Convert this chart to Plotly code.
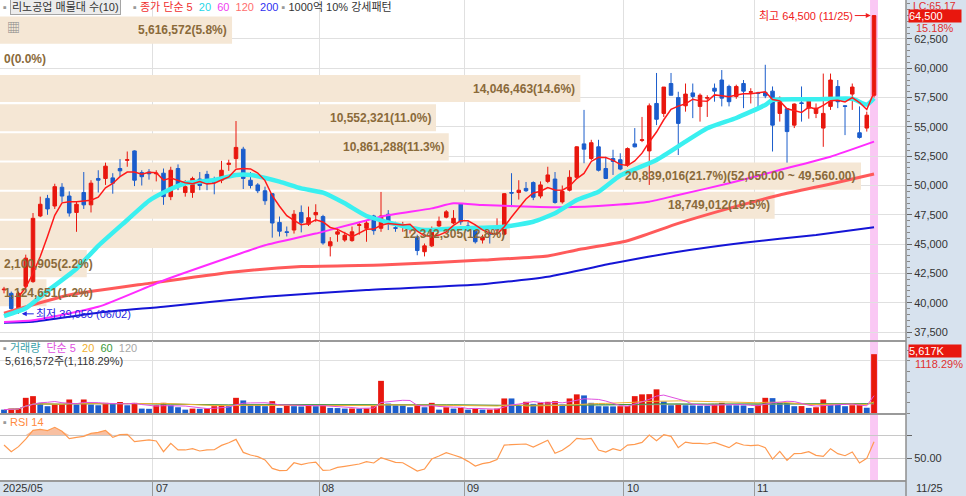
import plotly.graph_objects as go
import pandas as pd

W, H = 966, 496
PR = 906  # right edge of the chart area (px)

# daily candles, 2025-05-29 .. 2025-11-25
opens = [41100, 40800, 39400, 41400, 41800, 47400, 48900, 48250, 49850, 49100,
         47700, 49400, 48350, 50600, 50600, 50650, 51450, 52150, 52950, 51100,
         51150, 51000, 51050, 49050, 51450, 49400, 49400, 50550, 50950, 50300,
         50450, 51800, 52300, 53100, 50450, 50050, 49550, 49300, 46850, 46050,
         46200, 47700, 46700, 47500, 47350, 44850, 45850, 45350, 45300, 46600,
         46350, 47400, 46350, 47550, 46400, 46450, 46300, 45600, 44350, 44850,
         46550, 47300, 46800, 48450, 46550, 46500, 45350, 45900, 46200, 45850,
         49400, 49400, 49750, 50250, 49100, 50350, 50550, 48600, 49600, 50700,
         53550, 52300, 53300, 51450, 52300, 52200, 51750, 53550, 53850, 52950,
         57000, 56150, 58700, 57500, 56800, 57900, 56750, 57450, 58300, 59000,
         58450, 57600, 58700, 57950, 57900, 57950, 58050, 56150, 56550, 55150,
         57050, 56600, 56150, 54900, 56750, 58450, 56800, 57800, 54500, 54900,
         57700]
highs = [41350, 40950, 40950, 44100, 47650, 49050, 49200, 50150, 50200, 49500,
         48650, 51150, 50450, 51300, 51950, 51050, 52250, 52900, 53000, 51300,
         51400, 51300, 51450, 51600, 51800, 50450, 50750, 51150, 51250, 50750,
         52100, 52200, 55500, 53300, 51150, 50200, 49900, 49350, 47350, 46500,
         47900, 48300, 48200, 48400, 47500, 45600, 46350, 46050, 46500, 46900,
         47050, 47500, 49450, 47900, 46900, 46900, 46600, 45800, 45050, 46500,
         47350, 47900, 47900, 48500, 46900, 46650, 45800, 46050, 47200, 49350,
         51050, 50450, 50300, 50350, 50350, 51600, 51150, 50000, 51300, 53350,
         56450, 53900, 53900, 52450, 53050, 52750, 53250, 54900, 55850, 57000,
         59600, 58400, 59600, 58000, 58700, 58700, 57850, 57700, 58700, 59850,
         58600, 58600, 59000, 58300, 58000, 60300, 58450, 57600, 56600, 57000,
         58450, 57450, 57000, 59550, 59550, 59000, 56850, 58700, 56750, 56300,
         64500]
lows = [40800, 39400, 39050, 41100, 41700, 47300, 47500, 48000, 48600, 47350,
        46050, 48000, 47700, 49400, 50050, 49300, 50750, 51600, 49950, 50000,
        50500, 50350, 48350, 48750, 49600, 49050, 48950, 49600, 49600, 49250,
        50200, 51250, 51500, 49700, 49750, 49350, 48350, 45550, 45650, 45650,
        45900, 46000, 46550, 46900, 44950, 43950, 45200, 45200, 45200, 45800,
        45200, 45800, 46050, 46200, 46050, 46050, 45900, 44050, 43950, 44750,
        46450, 47200, 46700, 46650, 46050, 45050, 45050, 45050, 45800, 45750,
        48150, 48800, 49450, 48750, 48900, 50200, 48450, 48450, 49500, 50600,
        51900, 52150, 51200, 50550, 50900, 51300, 51600, 53250, 53700, 50050,
        55150, 55850, 57700, 52600, 56300, 55750, 55450, 55850, 57150, 56750,
        56750, 57400, 56600, 57000, 56600, 57450, 52900, 55450, 51950, 54900,
        55450, 55700, 55750, 53300, 56450, 56600, 54300, 56450, 54000, 54600,
        57500]
closes = [41150, 39500, 40800, 43800, 47200, 48400, 48000, 49900, 49100, 47650,
          48400, 48350, 50200, 50450, 51650, 50200, 51250, 52200, 50450, 50750,
          51000, 51050, 49050, 51300, 49900, 49900, 50600, 50000, 50200, 50250,
          51300, 51900, 53250, 50600, 50000, 49550, 48700, 46800, 46100, 46000,
          47550, 46850, 47250, 47700, 45100, 45200, 46050, 45750, 46050, 46650,
          46800, 46150, 47400, 46800, 46350, 46500, 46400, 44450, 44850, 46200,
          46950, 47750, 47200, 46900, 46150, 45200, 45600, 45850, 46450, 49300,
          49350, 49600, 49550, 49000, 50050, 50900, 48550, 49500, 50700, 53300,
          53100, 53650, 51300, 50600, 52050, 51400, 53150, 53300, 53900, 56800,
          55650, 58400, 57700, 55300, 57800, 57600, 57700, 57500, 58050, 57450,
          57150, 58450, 58050, 58000, 57850, 57650, 55150, 57450, 54600, 56950,
          57000, 57450, 56600, 56150, 59000, 57150, 56750, 58400, 54100, 56000,
          64500]

# volume, thousand shares
vol_k = [320, 420, 430, 1450, 1610, 970, 650, 810, 870, 1290,
         810, 1290, 810, 740, 970, 870, 1050, 740, 970, 420,
         400, 740, 970, 740, 550, 320, 420, 400, 450, 650,
         700, 650, 1450, 1200, 810, 780, 650, 1130, 485, 810,
         650, 620, 740, 650, 810, 485, 470, 420, 430, 420,
         440, 650, 3070, 900, 740, 720, 550, 740, 550, 970,
         320, 550, 420, 485, 320, 420, 320, 330, 420, 1390,
         1390, 740, 1070, 870, 970, 1070, 1130, 810, 1390, 1780,
         1680, 970, 650, 640, 630, 650, 660, 1610, 1780, 1800,
         2260, 1100, 740, 870, 740, 720, 700, 690, 870, 970,
         740, 730, 720, 480, 810, 1450, 1420, 970, 960, 650,
         660, 485, 550, 1290, 810, 800, 650, 740, 750, 502,
         5617]

rsi14 = [61.3, 55.5, 59.9, 66.5, 74.1, 74.9, 73.8, 76.7, 73.2, 66.8,
         68.0, 68.8, 71.4, 72.3, 74.1, 68.0, 70.3, 70.6, 64.2, 64.8,
         65.7, 64.8, 55.5, 62.8, 57.0, 57.0, 58.1, 56.1, 57.0, 57.2,
         61.0, 63.3, 66.2, 54.9, 52.6, 51.2, 48.3, 41.0, 39.0, 39.3,
         45.9, 44.2, 45.7, 46.5, 39.3, 39.6, 41.9, 42.8, 43.9, 44.8,
         46.8, 45.7, 50.3, 48.3, 46.2, 45.9, 42.5, 38.7, 40.4, 49.1,
         51.7, 54.6, 52.6, 50.6, 47.1, 43.0, 45.1, 46.2, 48.6, 61.3,
         61.6, 61.6, 62.2, 59.6, 62.8, 65.4, 54.1, 56.7, 61.0, 67.1,
         66.5, 67.1, 57.0, 55.2, 58.1, 56.4, 61.3, 61.9, 63.6, 70.0,
         65.1, 70.3, 68.8, 59.0, 63.9, 62.8, 62.8, 62.2, 63.6, 61.6,
         59.0, 63.3, 61.3, 60.7, 61.3, 59.0, 49.1, 55.8, 48.0, 53.8,
         54.1, 55.5, 52.3, 51.4, 58.1, 53.8, 52.0, 55.2, 45.7, 49.7,
         64.2]

# longer moving averages (candle index, value)
ma20_at = [0, 3, 6, 10, 13, 17, 20, 22, 25, 29, 32, 34, 38, 41, 44, 47, 50, 55,
           58, 63, 69, 73, 76, 79, 82, 85, 90, 94, 97, 101, 105, 106, 112, 117, 119, 120]
ma20 = [38850, 39520, 41000, 42900, 44850, 47060, 48700, 49400, 50190, 50470, 50900,
        50900, 50330, 49760, 49390, 48480, 47400, 46550, 46200, 46350, 46490, 46910,
        47630, 48760, 49470, 50850, 52180, 53740, 54880, 55760, 56870, 57300, 57350,
        57400, 56900, 57450]
ma60_at = [0, 4, 13, 22, 32, 36, 43, 52, 59, 62, 66, 70, 77, 84, 89, 93, 100, 107, 114, 120]
ma60 = [38350, 38500, 39650, 41900, 44070, 44900, 45900, 47340, 48050, 48480, 48340,
        48250, 48140, 48340, 48620, 49190, 50190, 51320, 52460, 53740]
ma120_at = [0, 9, 20, 32, 41, 52, 66, 75, 79, 86, 93, 100, 107, 114, 120]
ma120 = [39100, 40650, 41650, 42650, 43080, 43220, 43640, 43990, 44500, 45290, 46770,
         48050, 49190, 50130, 50980]
ma200_at = [0, 4, 13, 22, 36, 50, 66, 75, 84, 93, 102, 112, 120]
ma200 = [38300, 38380, 39150, 39660, 40510, 41090, 41580, 42220, 43360, 44350, 45120,
         45780, 46430]

# volume profile, 10 price bands from 39,600 upward
vp_low = 39600
vp_step = 2490
vp_vol = [1124651, 2100905, 12342305, 18749012, 20839016, 10861288, 10552321,
          14046463, 0, 5616572]

month_labels = ["2025/05", "07", "08", "09", "10", "11"]
month_first = [0, 21, 44, 64, 86, 104]
last_label = "11/25"

n = len(closes)
idx = list(range(n))

RED = "#e8170e"
BLUE = "#1b5dcc"
GRID = "#e0e0e0"
PANEL = "#d7e2ee"
BEIGE = "#f5e7d5"
BROWN = "#8a6a3a"
NUM = "Liberation Sans, Noto Sans CJK KR, sans-serif"


def px(x):
    return x / W


def py(y):
    return 1 - y / H


xr = [-0.552, 124.41]
xdom = [0, PR / W]
grid_x = [m - 0.5 for m in month_first[1:]]

ma5 = pd.Series(closes).rolling(5, min_periods=3).mean()
vol_colors = [BLUE] + [RED if v > p else BLUE for p, v in zip(vol_k[:-1], vol_k[1:])]
vs = pd.Series(vol_k)
vma = {w: vs.rolling(w, min_periods=1).mean() for w in (5, 20, 60, 120)}

vp_total = sum(vp_vol)
vp_mid = [vp_low + vp_step * (k + 0.5) for k in range(len(vp_vol))]
vp_max = max(vp_vol) * PR / 861

fig = go.Figure()

# volume profile bars (base subplot, drawn underneath)
fig.add_trace(go.Bar(x=vp_vol, y=vp_mid, orientation="h", width=vp_step * 0.93,
                     marker=dict(color=BEIGE, line=dict(width=0)),
                     xaxis="x", yaxis="y", hoverinfo="skip", showlegend=False))

for xs, ys, col, w in [(ma200_at, ma200, "#1515d6", 2), (ma120_at, ma120, "#ff5a5a", 3),
                       (ma60_at, ma60, "#ff2cff", 2), (ma20_at, ma20, "#3af0f0", 4.5)]:
    fig.add_trace(go.Scatter(x=xs, y=ys, mode="lines",
                             line=dict(color=col, width=w, shape="spline", smoothing=0.5),
                             xaxis="x2", yaxis="y", hoverinfo="skip", showlegend=False))

fig.add_trace(go.Candlestick(
    x=idx, open=opens, high=highs, low=lows, close=closes,
    increasing=dict(line=dict(color=RED, width=1), fillcolor=RED),
    decreasing=dict(line=dict(color=BLUE, width=1), fillcolor=BLUE),
    whiskerwidth=0, xaxis="x2", yaxis="y", showlegend=False, hoverinfo="skip"))

fig.add_trace(go.Scatter(x=idx, y=ma5, mode="lines", line=dict(color="#ff1a1a", width=1.5),
                         xaxis="x2", yaxis="y", hoverinfo="skip", showlegend=False))

# volume panel
fig.add_trace(go.Bar(x=idx, y=vol_k, width=0.8, marker=dict(color=vol_colors, line=dict(width=0)),
                     xaxis="x3", yaxis="y3", hoverinfo="skip", showlegend=False))
for w, col in [(120, "#a8a8a8"), (60, "#3a9a3a"), (20, "#f0b030"), (5, "#e050e0")]:
    fig.add_trace(go.Scatter(x=idx, y=vma[w], mode="lines", line=dict(color=col, width=1),
                             xaxis="x3", yaxis="y3", hoverinfo="skip", showlegend=False))

# RSI panel
fig.add_trace(go.Scatter(x=idx, y=[70] * n, mode="lines", line=dict(width=0),
                         xaxis="x4", yaxis="y4", hoverinfo="skip", showlegend=False))
fig.add_trace(go.Scatter(x=idx, y=[max(r, 70) for r in rsi14], mode="lines", line=dict(width=0),
                         fill="tonexty", fillcolor="rgba(242,140,85,0.55)",
                         xaxis="x4", yaxis="y4", hoverinfo="skip", showlegend=False))
fig.add_trace(go.Scatter(x=idx, y=rsi14, mode="lines", line=dict(color="#ff9a50", width=1.2),
                         xaxis="x4", yaxis="y4", hoverinfo="skip", showlegend=False))

tickfont = dict(family=NUM, size=11, color="#333")
xcommon = dict(range=xr, tickvals=grid_x, showgrid=True, gridcolor=GRID, showticklabels=False,
               zeroline=False, showline=True, linecolor="#9a9a9a", linewidth=1.5)

ann = []


def label(x, y, text, color="#333", size=11, xanchor="left", **kw):
    ann.append(dict(x=px(x), y=py(y), xref="paper", yref="paper", text=text, showarrow=False,
                    xanchor=xanchor, yanchor="middle",
                    font=dict(family=NUM, size=size, color=color), **kw))


# volume profile labels
for k, v in enumerate(vp_vol):
    txt = f"{v:,}({v / vp_total * 100:.1f}%)"
    if v == max(vp_vol):
        lo = vp_low + vp_step * k
        txt += f"({lo + vp_step:,.2f} ~ {lo:,.2f})"
    bar_px = v / vp_max * PR
    if bar_px > len(txt) * 6.1 + 6:
        xa, xv = "right", v - 3 * vp_max / PR
    else:
        xa, xv = "left", 2 * vp_max / PR
    ann.append(dict(x=xv, y=vp_mid[k], xref="x", yref="y", text=f"<b>{txt}</b>", showarrow=False,
                    xanchor=xa, yanchor="middle", font=dict(family=NUM, size=12, color=BROWN)))

hi_i = highs.index(max(highs))
lo_i = lows.index(min(lows))
ann.append(dict(x=hi_i - 0.45, y=highs[hi_i], xref="x2", yref="y", text=f"최고 {highs[hi_i]:,} (11/25)",
                showarrow=True, arrowhead=2, arrowsize=1, arrowwidth=1, arrowcolor="#f02020",
                ax=-16, ay=0, xanchor="right", font=dict(family=NUM, size=11, color="#f02020")))
ann.append(dict(x=lo_i + 0.45, y=lows[lo_i], xref="x2", yref="y", text=f"최저 {lows[lo_i]:,} (06/02)",
                showarrow=True, arrowhead=2, arrowsize=1, arrowwidth=1, arrowcolor="#2424e0",
                ax=12, ay=0, xanchor="left", font=dict(family=NUM, size=11, color="#2424e0")))

for lab, m in zip(month_labels, month_first):
    ann.append(dict(x=m - 0.5, y=py(488), xref="x2", yref="paper", text=lab, showarrow=False,
                    xanchor="left", yanchor="middle", xshift=1, font=tickfont))
label(914, 488, last_label)

# headers
label(1, 7, "▪", "#9a9a9a")
label(10, 7, "리노공업 매물대 수(10)", "#333", bgcolor="#ececec", bordercolor="#a5a5a5",
      borderwidth=1, borderpad=1)
label(131, 7, "<span style='color:#9a9a9a'>▪</span> <span style='color:#f03030'>종가 단순 5</span>  "
      "<span style='color:#1fd6e8'>20</span>  <span style='color:#f040f0'>60</span>  "
      "<span style='color:#ff6e6e'>120</span>  <span style='color:#3030f0'>200</span> "
      "<span style='color:#9a9a9a'>▪</span> 1000억 10% 강세패턴")
label(5, 28, "▦", "#8a8a8a", size=13)
label(1, 348, "<span style='color:#9a9a9a'>▪</span> <span style='color:#3aa0a8'>거래량</span>  "
      "<span style='color:#e050e0'>단순 5</span>  <span style='color:#f0b030'>20</span>  "
      "<span style='color:#3a9a3a'>60</span>  <span style='color:#a8a8a8'>120</span>")
label(3, 361, "5,616,572주(1,118.29%)", "#333")
label(1, 422, "<span style='color:#9a9a9a'>▪</span> <span style='color:#ff8a40'>RSI 14</span>")

# right-hand value boxes
label(908, 16.5, "64,500", "white", bgcolor=RED, width=52, align="left", borderpad=0)
label(911, 5.5, "LC:65.17", "#e03030", size=10.5)
label(914, 28, "15.18%", "#e03030")
label(908, 351, "5,617K", "white", bgcolor=RED, width=52, align="left", borderpad=0)
label(913, 364, "1118.29%", "#e03030")

shapes = [
    dict(type="rect", xref="paper", yref="paper", x0=px(PR), x1=1, y0=0, y1=1,
         fillcolor=PANEL, line=dict(width=0), layer="below"),
    dict(type="rect", xref="paper", yref="paper", x0=0, x1=px(PR), y0=0, y1=py(480),
         fillcolor=PANEL, line=dict(width=0), layer="below"),
    dict(type="rect", xref="x2", yref="paper", x0=n - 1 - 0.55, x1=n - 1 + 0.55, y0=py(480), y1=1,
         fillcolor="#fac8f4", line=dict(width=0), layer="below"),
    dict(type="line", xref="paper", yref="paper", x0=px(PR), x1=px(PR), y0=0, y1=1,
         line=dict(color="#8e8e8e", width=1.5)),
]

fig.update_layout(
    width=W, height=H, autosize=False, margin=dict(l=0, r=0, t=0, b=0),
    paper_bgcolor="white", plot_bgcolor="rgba(0,0,0,0)", showlegend=False,
    font=dict(family=NUM, size=11, color="#333"),
    xaxis=dict(domain=xdom, range=[0, vp_max], visible=False, anchor="y", fixedrange=True),
    xaxis2=dict(overlaying="x", anchor="y", ticks="", rangeslider=dict(visible=False), **xcommon),
    xaxis3=dict(domain=xdom, anchor="y3", ticks="", **xcommon),
    xaxis4=dict(domain=xdom, anchor="y4", ticks="outside", ticklen=16, tickcolor="#9a9a9a", **xcommon),
    yaxis=dict(domain=[py(340), 1], anchor="x", side="right", range=[36818, 65827],
               tickvals=list(range(37500, 62501, 2500)), tickformat=",", ticks="outside",
               ticklen=5, tickcolor="#666", tickfont=tickfont, showgrid=True, gridcolor=GRID,
               zeroline=False,
               minor=dict(tickvals=list(range(37000, 65501, 500)), ticks="outside", ticklen=3,
                          tickcolor="#888", showgrid=False)),
    yaxis3=dict(domain=[py(413), py(341)], anchor="x3", side="right", range=[0, 6876],
                tickvals=[5000], showticklabels=False, ticks="", showgrid=True, gridcolor=GRID,
                zeroline=False,
                minor=dict(tickvals=list(range(0, 6001, 1000)), ticks="outside", ticklen=3,
                           tickcolor="#888", showgrid=False)),
    yaxis4=dict(domain=[py(480), py(415)], anchor="x4", side="right", range=[30.9, 87.4],
                tickvals=[50, 70], ticktext=["50.00", ""], ticks="outside", ticklen=5,
                tickcolor="#666", tickfont=tickfont, showgrid=True, gridcolor="#c8c8c8",
                zeroline=False),
    annotations=ann,
    shapes=shapes,
)

# the page has a default body margin; drop it so the chart fills the window
fig.write_html("out.html", config={"displayModeBar": False},
               post_script="document.body.style.margin='0';document.body.style.overflow='hidden';")
